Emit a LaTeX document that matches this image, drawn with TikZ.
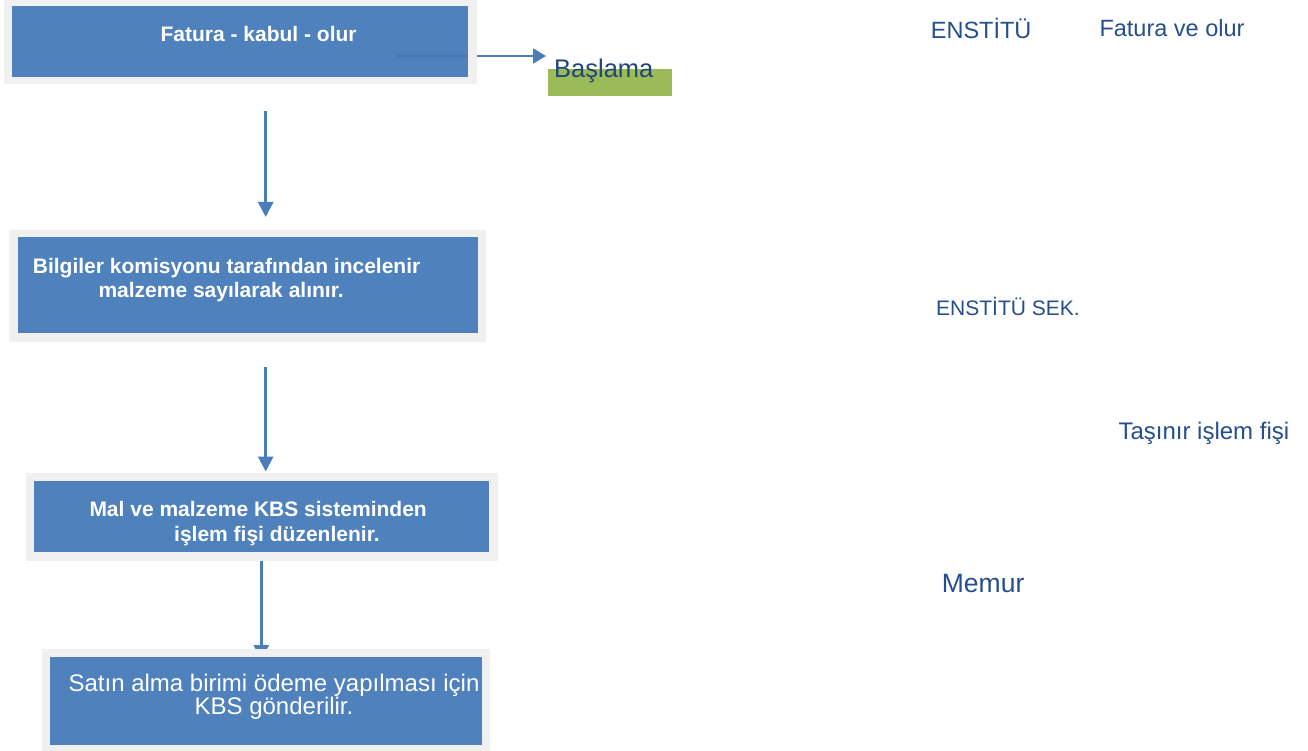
\documentclass[tikz,border=0pt]{standalone}
\usepackage{fontspec}
\setmainfont{Liberation Sans}
\usetikzlibrary{arrows.meta}
\definecolor{boxblue}{HTML}{4F81BD}
\definecolor{framegray}{HTML}{F0F0F0}
\definecolor{arrblue}{HTML}{4A7EBB}
\definecolor{lblblue}{HTML}{254F8B}
\definecolor{startgreen}{HTML}{9BBB59}
\definecolor{darkblue}{HTML}{1F4677}
\begin{document}
\begin{tikzpicture}[x=1pt,y=-1pt,
  grayframe/.style={fill=framegray, draw=none, inner sep=0pt, outer sep=0pt, anchor=north west},
  bluebox/.style={fill=boxblue, draw=none, inner sep=0pt, outer sep=0pt, anchor=north west},
  greenbox/.style={fill=startgreen, draw=none, inner sep=0pt, outer sep=0pt, anchor=north west},
  boldtxt/.style={text=white, font=\bfseries\fontsize{21pt}{24pt}\selectfont, inner sep=0pt, anchor=base west},
  plaintxt/.style={text=white, font=\fontsize{24pt}{19.7pt}\selectfont, inner sep=0pt, align=center},
  sidelbl/.style={text=lblblue, inner sep=0pt, anchor=base west},
  varr/.style={draw=arrblue, line width=2.8pt, -{Triangle[width=15pt,length=15pt]}},
  harr/.style={draw=arrblue, line width=2pt, -{Triangle[width=15pt,length=13pt]}},
  faintline/.style={draw=arrblue!80!black, line width=1.5pt, opacity=0.35}
]
\useasboundingbox (0,0) rectangle (1308,751);
\fill[white] (0,0) rectangle (1308,751);

% Box 1
\node[grayframe, minimum width=473pt, minimum height=84.3pt] (b1o) at (4,0) {};
\node[bluebox, minimum width=456pt, minimum height=71.6pt] (b1i) at (12,5.7) {};
\node[boldtxt] (t1) at (160.4,41.7) {Fatura - kabul - olur};

% Start label
\node[greenbox, minimum width=124pt, minimum height=26.7pt] (startbox) at (548,69) {};
\node[sidelbl, text=darkblue, font=\fontsize{25.5pt}{28pt}\selectfont] (startlbl) at (554,77.7) {Başlama};

% Box 2
\node[grayframe, minimum width=476.4pt, minimum height=111.7pt] (b2o) at (9.3,230) {};
\node[bluebox, minimum width=460pt, minimum height=96pt] (b2i) at (17.7,237.3) {};
\node[boldtxt] (t2a) at (32.7,273.3) {Bilgiler komisyonu tarafından incelenir};
\node[boldtxt] (t2b) at (98.3,297.3) {malzeme sayılarak alınır.};

% Box 3
\node[grayframe, minimum width=471.7pt, minimum height=88pt] (b3o) at (26,472.7) {};
\node[bluebox, minimum width=455.3pt, minimum height=71.3pt] (b3i) at (34,481) {};
\node[boldtxt] (t3a) at (89.3,516.7) {Mal ve malzeme KBS sisteminden};
\node[boldtxt] (t3b) at (174,541.7) {işlem fişi düzenlenir.};

% Connectors
\coordinate (tip0) at (546,56);
\coordinate (fl) at (397,56);
\draw[harr] (b1o.east |- tip0) -- (tip0);
\draw[faintline] (fl) -- (b1i.east |- tip0);

\coordinate (a1s) at (265.7,111);
\coordinate (a1e) at (265.7,217);
\draw[varr] (a1s) -- (a1e);

\coordinate (a2s) at (265.7,367);
\coordinate (a2e) at (265.7,471.5);
\draw[varr] (a2s) -- (a2e);

\coordinate (a3e) at (261.3,660);
\draw[varr] (b3o.south -| a3e) -- (a3e);

% Box 4 (drawn over the last arrow tip)
\node[grayframe, minimum width=447.7pt, minimum height=102pt] (b4o) at (42.3,649) {};
\node[bluebox, minimum width=432.3pt, minimum height=87.7pt] (b4i) at (50,657.3) {};
\node[plaintxt, anchor=north] (t4) at (274,673.8) {Satın alma birimi ödeme yapılması için\\KBS gönderilir.};

% Right-hand labels
\node[sidelbl, font=\fontsize{23.5pt}{26pt}\selectfont] (l1) at (930.7,38.5) {ENSTİTÜ};
\node[sidelbl, font=\fontsize{23.5pt}{26pt}\selectfont] (l2) at (1099.3,36.7) {Fatura ve olur};
\node[sidelbl, font=\fontsize{21pt}{24pt}\selectfont] (l3) at (936,315) {ENSTİTÜ SEK.};
\node[sidelbl, font=\fontsize{24pt}{26pt}\selectfont] (l4) at (1118.3,439) {Taşınır işlem fişi};
\node[sidelbl, font=\fontsize{26.5pt}{29pt}\selectfont] (l5) at (941.7,592.7) {Memur};
\end{tikzpicture}
\end{document}
